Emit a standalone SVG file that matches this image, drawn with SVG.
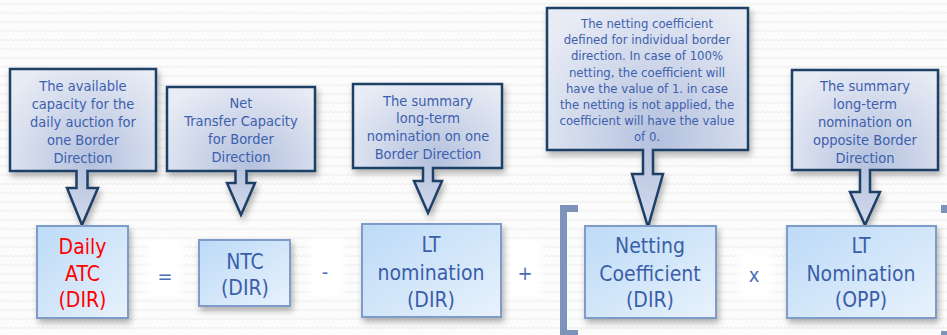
<svg xmlns="http://www.w3.org/2000/svg" width="947" height="335" viewBox="0 0 947 335">
  <defs>
    <style>
      .note { fill: url(#noteFill); stroke: #1f3f66; stroke-width: 2.5; stroke-linejoin: miter; filter: url(#shadow); }
      .note-text { font-family: "DejaVu Sans Condensed", "DejaVu Sans", sans-serif; font-stretch: condensed; font-size: 14.5px; fill: #3d60ad; text-anchor: middle; }
      .note-text.small { font-size: 13px; }
      .term { fill: url(#termFill); stroke: #7f9bc8; stroke-width: 2; filter: url(#shadow); }
      .term-text { font-family: "DejaVu Sans Condensed", "DejaVu Sans", sans-serif; font-stretch: condensed; font-size: 21px; fill: #3b5ea9; text-anchor: middle; }
      .term-text.red { fill: #ff0000; }
      .op-bg { fill: #ffffff; filter: url(#soft); }
      .op { font-family: "DejaVu Sans Condensed", "DejaVu Sans", sans-serif; font-stretch: condensed; font-size: 20px; fill: #4a6db6; text-anchor: middle; }
      .bracket { fill: #7d93b9; }
    </style>
    <pattern id="waves" width="9" height="9" patternUnits="userSpaceOnUse">
      <path d="M0 5 L2.25 3 L4.5 5 L6.75 3 L9 5" fill="none" stroke="#f0f0f0" stroke-width="1.2"/>
    </pattern>
    <radialGradient id="noteFill" cx="0.55" cy="0.6" r="0.7">
      <stop offset="0" stop-color="#b4c1de"/>
      <stop offset="1" stop-color="#e8ecf5"/>
    </radialGradient>
    <linearGradient id="termFill" x1="0" y1="0" x2="1" y2="1">
      <stop offset="0" stop-color="#bcdaf7"/>
      <stop offset="1" stop-color="#e8f2fc"/>
    </linearGradient>
    <filter id="shadow" x="-20%" y="-20%" width="140%" height="140%">
      <feDropShadow dx="2" dy="4" stdDeviation="3" flood-color="#000000" flood-opacity="0.3"/>
    </filter>
    <filter id="soft" x="-30%" y="-30%" width="160%" height="160%">
      <feGaussianBlur stdDeviation="3"/>
    </filter>
  </defs>

  <!-- background -->
  <rect width="947" height="335" fill="#fcfcfc"/>
  <rect width="947" height="335" fill="url(#waves)"/>

  <!-- brackets around the netting product -->
  <g id="brackets">
    <path class="bracket" d="M560 205 H578 V212 H567 V330 H578 V337 H560 Z"/>
    <rect class="bracket" x="941" y="205" width="8" height="8"/>
    <rect class="bracket" x="941" y="331" width="8" height="8"/>
  </g>

  <!-- operators -->
  <g id="operators">
    <rect class="op-bg" x="147" y="240" width="36" height="56"/>
    <rect class="op-bg" x="310" y="238" width="34" height="58"/>
    <rect class="op-bg" x="508" y="240" width="34" height="56"/>
    <rect class="op-bg" x="738" y="252" width="34" height="46"/>
    <text class="op" x="165" y="283">=</text>
    <text class="op" x="325" y="279">-</text>
    <text class="op" x="525" y="280">+</text>
    <text class="op" x="754" y="282">x</text>
  </g>

  <!-- callout notes with down arrows -->
  <g id="note-atc">
    <path class="note" d="M10 69 H156 V171 H87.5 V188 H98 L82 225 L67 188 H76.5 V171 H10 Z"/>
    <text class="note-text" x="83" y="91">The available</text>
    <text class="note-text" x="83" y="109">capacity for the</text>
    <text class="note-text" x="83" y="127">daily auction for</text>
    <text class="note-text" x="83" y="145">one Border</text>
    <text class="note-text" x="83" y="163">Direction</text>
  </g>

  <g id="note-ntc">
    <path class="note" d="M167 87 H315 V171 H246.5 V183 H255 L241 215 L227 183 H235.5 V171 H167 Z"/>
    <text class="note-text" x="241" y="108">Net</text>
    <text class="note-text" x="241" y="126">Transfer Capacity</text>
    <text class="note-text" x="241" y="144">for Border</text>
    <text class="note-text" x="241" y="162">Direction</text>
  </g>

  <g id="note-lt-dir">
    <path class="note" d="M353 84 H502 V168 H433 V181 H442 L428 213 L414 181 H423 V168 H353 Z"/>
    <text class="note-text" x="428" y="106">The summary</text>
    <text class="note-text" x="428" y="123">long-term</text>
    <text class="note-text" x="428" y="141">nomination on one</text>
    <text class="note-text" x="428" y="159">Border Direction</text>
  </g>

  <g id="note-netting">
    <path class="note" d="M547 8 H748 V150 H653 V174 H663 L648 227 L632 174 H643 V150 H547 Z"/>
    <text class="note-text small" x="647" y="28">The netting coefficient</text>
    <text class="note-text small" x="647" y="44">defined for individual border</text>
    <text class="note-text small" x="647" y="60">direction. In case of 100%</text>
    <text class="note-text small" x="647" y="77">netting, the coefficient will</text>
    <text class="note-text small" x="647" y="93">have the value of 1. in case</text>
    <text class="note-text small" x="647" y="109">the netting is not applied, the</text>
    <text class="note-text small" x="647" y="125">coefficient will have the value</text>
    <text class="note-text small" x="647" y="141">of 0.</text>
  </g>

  <g id="note-lt-opp">
    <path class="note" d="M792 70 H938 V170 H870 V192 H880 L865 225 L850 192 H860 V170 H792 Z"/>
    <text class="note-text" x="865" y="91">The summary</text>
    <text class="note-text" x="865" y="109">long-term</text>
    <text class="note-text" x="865" y="127">nomination on</text>
    <text class="note-text" x="865" y="145">opposite Border</text>
    <text class="note-text" x="865" y="163">Direction</text>
  </g>

  <!-- formula terms -->
  <g id="term-atc">
    <rect class="term" x="37" y="226" width="91" height="92"/>
    <text class="term-text red" x="82.5" y="254">Daily</text>
    <text class="term-text red" x="82.5" y="281">ATC</text>
    <text class="term-text red" x="82.5" y="307">(DIR)</text>
  </g>

  <g id="term-ntc">
    <rect class="term" x="199" y="240" width="91" height="66"/>
    <text class="term-text" x="245" y="269">NTC</text>
    <text class="term-text" x="245" y="295">(DIR)</text>
  </g>

  <g id="term-lt-dir">
    <rect class="term" x="362" y="224" width="139" height="93"/>
    <text class="term-text" x="431" y="252">LT</text>
    <text class="term-text" x="431" y="280">nomination</text>
    <text class="term-text" x="431" y="307">(DIR)</text>
  </g>

  <g id="term-netting">
    <rect class="term" x="585" y="226" width="131" height="92"/>
    <text class="term-text" x="650" y="253">Netting</text>
    <text class="term-text" x="650" y="281">Coefficient</text>
    <text class="term-text" x="650" y="307">(DIR)</text>
  </g>

  <g id="term-lt-opp">
    <rect class="term" x="787" y="226" width="149" height="92"/>
    <text class="term-text" x="861" y="253">LT</text>
    <text class="term-text" x="861" y="281">Nomination</text>
    <text class="term-text" x="861" y="307">(OPP)</text>
  </g>
</svg>
